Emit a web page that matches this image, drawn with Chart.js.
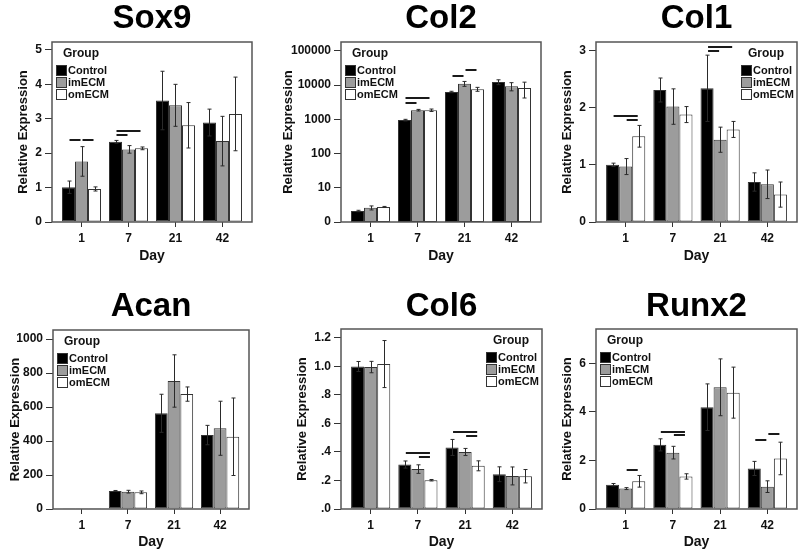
<!DOCTYPE html>
<html><head><meta charset="utf-8">
<script src="https://cdn.jsdelivr.net/npm/chart.js@4.4.1/dist/chart.umd.min.js"></script>
<style>
html,body{margin:0;padding:0;background:#fff;}
#wrap{position:relative;width:800px;height:555px;overflow:hidden;background:#fff;}
canvas{position:absolute;}
</style></head><body><div id="wrap"></div>
<script>
// ---------- data ----------
const days = ['1', '7', '21', '42'];
const groupNames = ['Control', 'imECM', 'omECM'];
const groupColors = ['#000000', '#9c9c9c', '#ffffff'];

// Sox9
const sox9Means  = [[1.01, 2.33, 3.53, 2.89], [1.76, 2.11, 3.39, 2.35], [0.96, 2.14, 2.81, 3.14]];
const sox9Errors = [[0.18, 0.04, 0.85, 0.39], [0.43, 0.11, 0.61, 0.72], [0.06, 0.04, 0.66, 1.07]];
const sox9Sig    = [[0, 0, 1, 2.39], [0, 1, 2, 2.39], [1, 0, 2, 2.65], [1, 0, 1, 2.52]];
const sox9Ticks  = [0, 1, 2, 3, 4, 5];
const sox9TickLabels = ['0', '1', '2', '3', '4', '5'];

// Col2 (log axis)
const col2Means  = [[2.1, 950, 6300, 12300], [2.6, 1850, 11000, 9300], [2.75, 1850, 7600, 8200]];
const col2Errors = [[0.1, 50, 300, 2000], [0.35, 100, 1800, 2500], [0.1, 150, 1000, 4000]];
const col2Sig    = [[1, 0, 2, 4200], [1, 0, 1, 3000], [2, 0, 1, 18300], [2, 1, 2, 27000]];
const col2Ticks  = [1, 10, 100, 1000, 10000, 100000];
const col2TickLabels = ['0', '10', '100', '1000', '10000', '100000'];

// Col1
const col1Means  = [[1.0, 2.31, 2.34, 0.70], [0.97, 2.02, 1.44, 0.66], [1.50, 1.88, 1.62, 0.48]];
const col1Errors = [[0.03, 0.21, 0.58, 0.16], [0.14, 0.31, 0.22, 0.25], [0.19, 0.14, 0.14, 0.22]];
const col1Sig    = [[0, 0, 2, 1.86], [0, 1, 2, 1.79], [2, 0, 2, 3.07], [2, 0, 1, 2.99]];
const col1Ticks  = [0, 1, 2, 3];
const col1TickLabels = ['0', '1', '2', '3'];

// Acan
const acanMeans  = [[1, 106, 563, 435], [1, 102, 753, 475], [1, 98, 676, 425]];
const acanErrors = [[0, 3, 112, 57], [0, 8, 154, 159], [0, 8, 42, 228]];
const acanSig    = [];
const acanTicks  = [0, 200, 400, 600, 800, 1000];
const acanTickLabels = ['0', '200', '400', '600', '800', '1000'];

// Col6
const col6Means  = [[1.0, 0.312, 0.432, 0.244], [0.996, 0.28, 0.40, 0.232], [1.017, 0.202, 0.303, 0.23]];
const col6Errors = [[0.035, 0.025, 0.056, 0.052], [0.04, 0.03, 0.025, 0.063], [0.165, 0.005, 0.035, 0.047]];
const col6Sig    = [[1, 0, 2, 0.395], [1, 1, 2, 0.362], [2, 0, 2, 0.538], [2, 1, 2, 0.512]];
const col6Ticks  = [0, 0.2, 0.4, 0.6, 0.8, 1.0, 1.2];
const col6TickLabels = ['.0', '.2', '.4', '.6', '.8', '1.0', '1.2'];

// Runx2
const runx2Means  = [[1.0, 2.64, 4.19, 1.67], [0.84, 2.32, 5.01, 0.92], [1.14, 1.34, 4.79, 2.08]];
const runx2Errors = [[0.05, 0.25, 0.96, 0.29], [0.04, 0.26, 1.17, 0.24], [0.24, 0.11, 1.05, 0.67]];
const runx2Sig    = [[0, 1, 2, 1.60], [1, 0, 2, 3.18], [1, 1, 2, 3.03], [3, 0, 1, 2.84], [3, 1, 2, 3.08]];
const runx2Ticks  = [0, 2, 4, 6];
const runx2TickLabels = ['0', '2', '4', '6'];

// ---------- layout ----------
const FONT = "'Liberation Sans', Arial, Helvetica, sans-serif";
Chart.defaults.font.family = FONT;

const panels = [
  {id:'p1', title:'Sox9',  means:sox9Means,  errors:sox9Errors,  sig:sox9Sig,  ticks:sox9Ticks,  labels:sox9TickLabels,  yMin:0, yMax:5.23, log:false, legend:'left',
   cx:0,   cy:0,   cw:262, ch:270, yWidth:52, padRight:10, padTop:42, xHeight:48, titleY:19, dayPad:5, yTitlePad:16},
  {id:'p2', title:'Col2',  means:col2Means,  errors:col2Errors,  sig:col2Sig,  ticks:col2Ticks,  labels:col2TickLabels,  yMin:1, yMax:182000, log:true, legend:'left',
   cx:265, cy:0,   cw:278, ch:270, yWidth:76, padRight:2,  padTop:42, xHeight:48, titleY:19, dayPad:5, yTitlePad:16},
  {id:'p3', title:'Col1',  means:col1Means,  errors:col1Errors,  sig:col1Sig,  ticks:col1Ticks,  labels:col1TickLabels,  yMin:0, yMax:3.15, log:false, legend:'right',
   cx:544, cy:0,   cw:256, ch:270, yWidth:52, padRight:3,  padTop:42, xHeight:48, titleY:19, dayPad:5, yTitlePad:16},
  {id:'p4', title:'Acan',  means:acanMeans,  errors:acanErrors,  sig:acanSig,  ticks:acanTicks,  labels:acanTickLabels,  yMin:0, yMax:1053, log:false, legend:'left',
   cx:1,   cy:270, cw:262, ch:285, yWidth:52, padRight:14, padTop:60, xHeight:46, titleY:37, dayPad:4, yTitlePad:7},
  {id:'p5', title:'Col6',  means:col6Means,  errors:col6Errors,  sig:col6Sig,  ticks:col6Ticks,  labels:col6TickLabels,  yMin:0, yMax:1.263, log:false, legend:'right',
   cx:279, cy:270, cw:265, ch:285, yWidth:62, padRight:2,  padTop:59, xHeight:46, titleY:37, dayPad:4, yTitlePad:16},
  {id:'p6', title:'Runx2', means:runx2Means, errors:runx2Errors, sig:runx2Sig, ticks:runx2Ticks, labels:runx2TickLabels, yMin:0, yMax:7.41, log:false, legend:'left',
   cx:544, cy:270, cw:256, ch:285, yWidth:52, padRight:3,  padTop:59, xHeight:46, titleY:37, dayPad:4, yTitlePad:16}
];
const panelById = {};
panels.forEach(p => panelById[p.id] = p);

const decorPlugin = {
  id: 'decor',
  afterDatasetsDraw(chart) {
    const p = panelById[chart.canvas.id];
    const ctx = chart.ctx, y = chart.scales.y;
    ctx.save();
    // error bars
    ctx.strokeStyle = '#2a2a2a';
    ctx.lineWidth = 1;
    p.errors.forEach((errs, di) => {
      const meta = chart.getDatasetMeta(di);
      meta.data.forEach((bar, j) => {
        const m = p.means[di][j], e = errs[j];
        if (!e) return;
        let lo = m - e;
        if (lo < y.min) lo = y.min;
        const yt = y.getPixelForValue(m + e), yb = y.getPixelForValue(lo);
        const x = Math.round(bar.x) + 0.5;
        ctx.beginPath();
        ctx.moveTo(x, yt); ctx.lineTo(x, yb);
        ctx.moveTo(x - 2, yt); ctx.lineTo(x + 2, yt);
        ctx.moveTo(x - 2, yb); ctx.lineTo(x + 2, yb);
        ctx.stroke();
      });
    });
    // significance lines
    ctx.strokeStyle = '#1a1a1a';
    ctx.lineWidth = 2;
    p.sig.forEach(([d, a, b, v]) => {
      const xa = chart.getDatasetMeta(a).data[d].x;
      const xb = chart.getDatasetMeta(b).data[d].x;
      const yy = Math.round(y.getPixelForValue(v));
      ctx.beginPath();
      ctx.moveTo(xa + 1, yy); ctx.lineTo(xb - 1, yy);
      ctx.stroke();
    });
    ctx.restore();
  },
  afterDraw(chart) {
    const p = panelById[chart.canvas.id];
    const ctx = chart.ctx, a = chart.chartArea;
    ctx.save();
    // frame
    ctx.strokeStyle = '#555';
    ctx.lineWidth = 1.5;
    ctx.strokeRect(a.left, a.top, a.right - a.left, a.bottom - a.top);
    // legend
    const sx = p.legend === 'left' ? a.left + 4 : a.right - 56;
    ctx.textBaseline = 'middle';
    ctx.textAlign = 'left';
    ctx.fillStyle = '#111';
    ctx.font = 'bold 12px ' + FONT;
    ctx.fillText('Group', sx + 7, a.top + 12);
    groupNames.forEach((g, i) => {
      const cyy = Math.round(a.top + 27.5 + i * 12.3);
      ctx.fillStyle = groupColors[i];
      ctx.fillRect(sx, cyy - 5, 11, 11);
      ctx.strokeStyle = '#333';
      ctx.lineWidth = 1;
      ctx.strokeRect(sx + 0.5, cyy - 4.5, 10, 10);
      ctx.fillStyle = '#111';
      ctx.font = 'bold 11px ' + FONT;
      ctx.fillText(g, sx + 12, cyy + 0.5);
    });
    // title
    ctx.textAlign = 'center';
    ctx.font = 'bold 33px ' + FONT;
    ctx.fillStyle = '#000';
    ctx.fillText(p.title, (a.left + a.right) / 2, p.titleY);
    ctx.restore();
  }
};

const wrap = document.getElementById('wrap');
panels.forEach(p => {
  const c = document.createElement('canvas');
  c.id = p.id;
  c.width = p.cw; c.height = p.ch;
  c.style.left = p.cx + 'px'; c.style.top = p.cy + 'px';
  c.style.width = p.cw + 'px'; c.style.height = p.ch + 'px';
  wrap.appendChild(c);
  new Chart(c, {
    type: 'bar',
    data: {
      datasets: groupNames.map((g, i) => ({
        label: g,
        data: p.means[i].map((v, j) => ({x: j, y: v})),
        backgroundColor: groupColors[i],
        borderColor: '#333',
        borderWidth: 1,
        borderSkipped: false,
        categoryPercentage: 0.83,
        barPercentage: 1.0
      }))
    },
    options: {
      responsive: false,
      animation: false,
      devicePixelRatio: 1,
      layout: {padding: {left: 0, top: p.padTop, right: p.padRight, bottom: 0}},
      plugins: {legend: {display: false}, tooltip: {enabled: false}, title: {display: false}},
      scales: {
        x: {
          type: 'linear', min: -0.628, max: 3.628, offset: false, bounds: 'data',
          afterBuildTicks: s => { s.ticks = days.map((d, i) => ({value: i})); },
          afterFit: s => { s.height = p.xHeight; },
          ticks: {callback: (v, i) => days[i], font: {size: 12, weight: 'bold'}, color: '#111', padding: 4, maxRotation: 0, autoSkip: false},
          grid: {display: true, drawOnChartArea: false, drawTicks: true, tickLength: 5, color: '#333', offset: false},
          border: {display: false},
          title: {display: true, text: 'Day', font: {size: 14, weight: 'bold'}, color: '#111', padding: {top: 0, bottom: p.dayPad}}
        },
        y: {
          type: p.log ? 'logarithmic' : 'linear', min: p.yMin, max: p.yMax, bounds: 'data',
          afterBuildTicks: s => { s.ticks = p.ticks.map(v => ({value: v})); },
          afterFit: s => { s.width = p.yWidth; },
          ticks: {callback: (v, i) => p.labels[i], font: {size: 12, weight: 'bold'}, color: '#111', padding: 3, autoSkip: false},
          grid: {display: true, drawOnChartArea: false, drawTicks: true, tickLength: 7, color: '#333'},
          border: {display: false},
          title: {display: true, text: 'Relative Expression', font: {size: 13, weight: 'bold'}, color: '#111', padding: {top: p.yTitlePad, bottom: 0}}
        }
      }
    },
    plugins: [decorPlugin]
  });
});
</script>
</body></html>
